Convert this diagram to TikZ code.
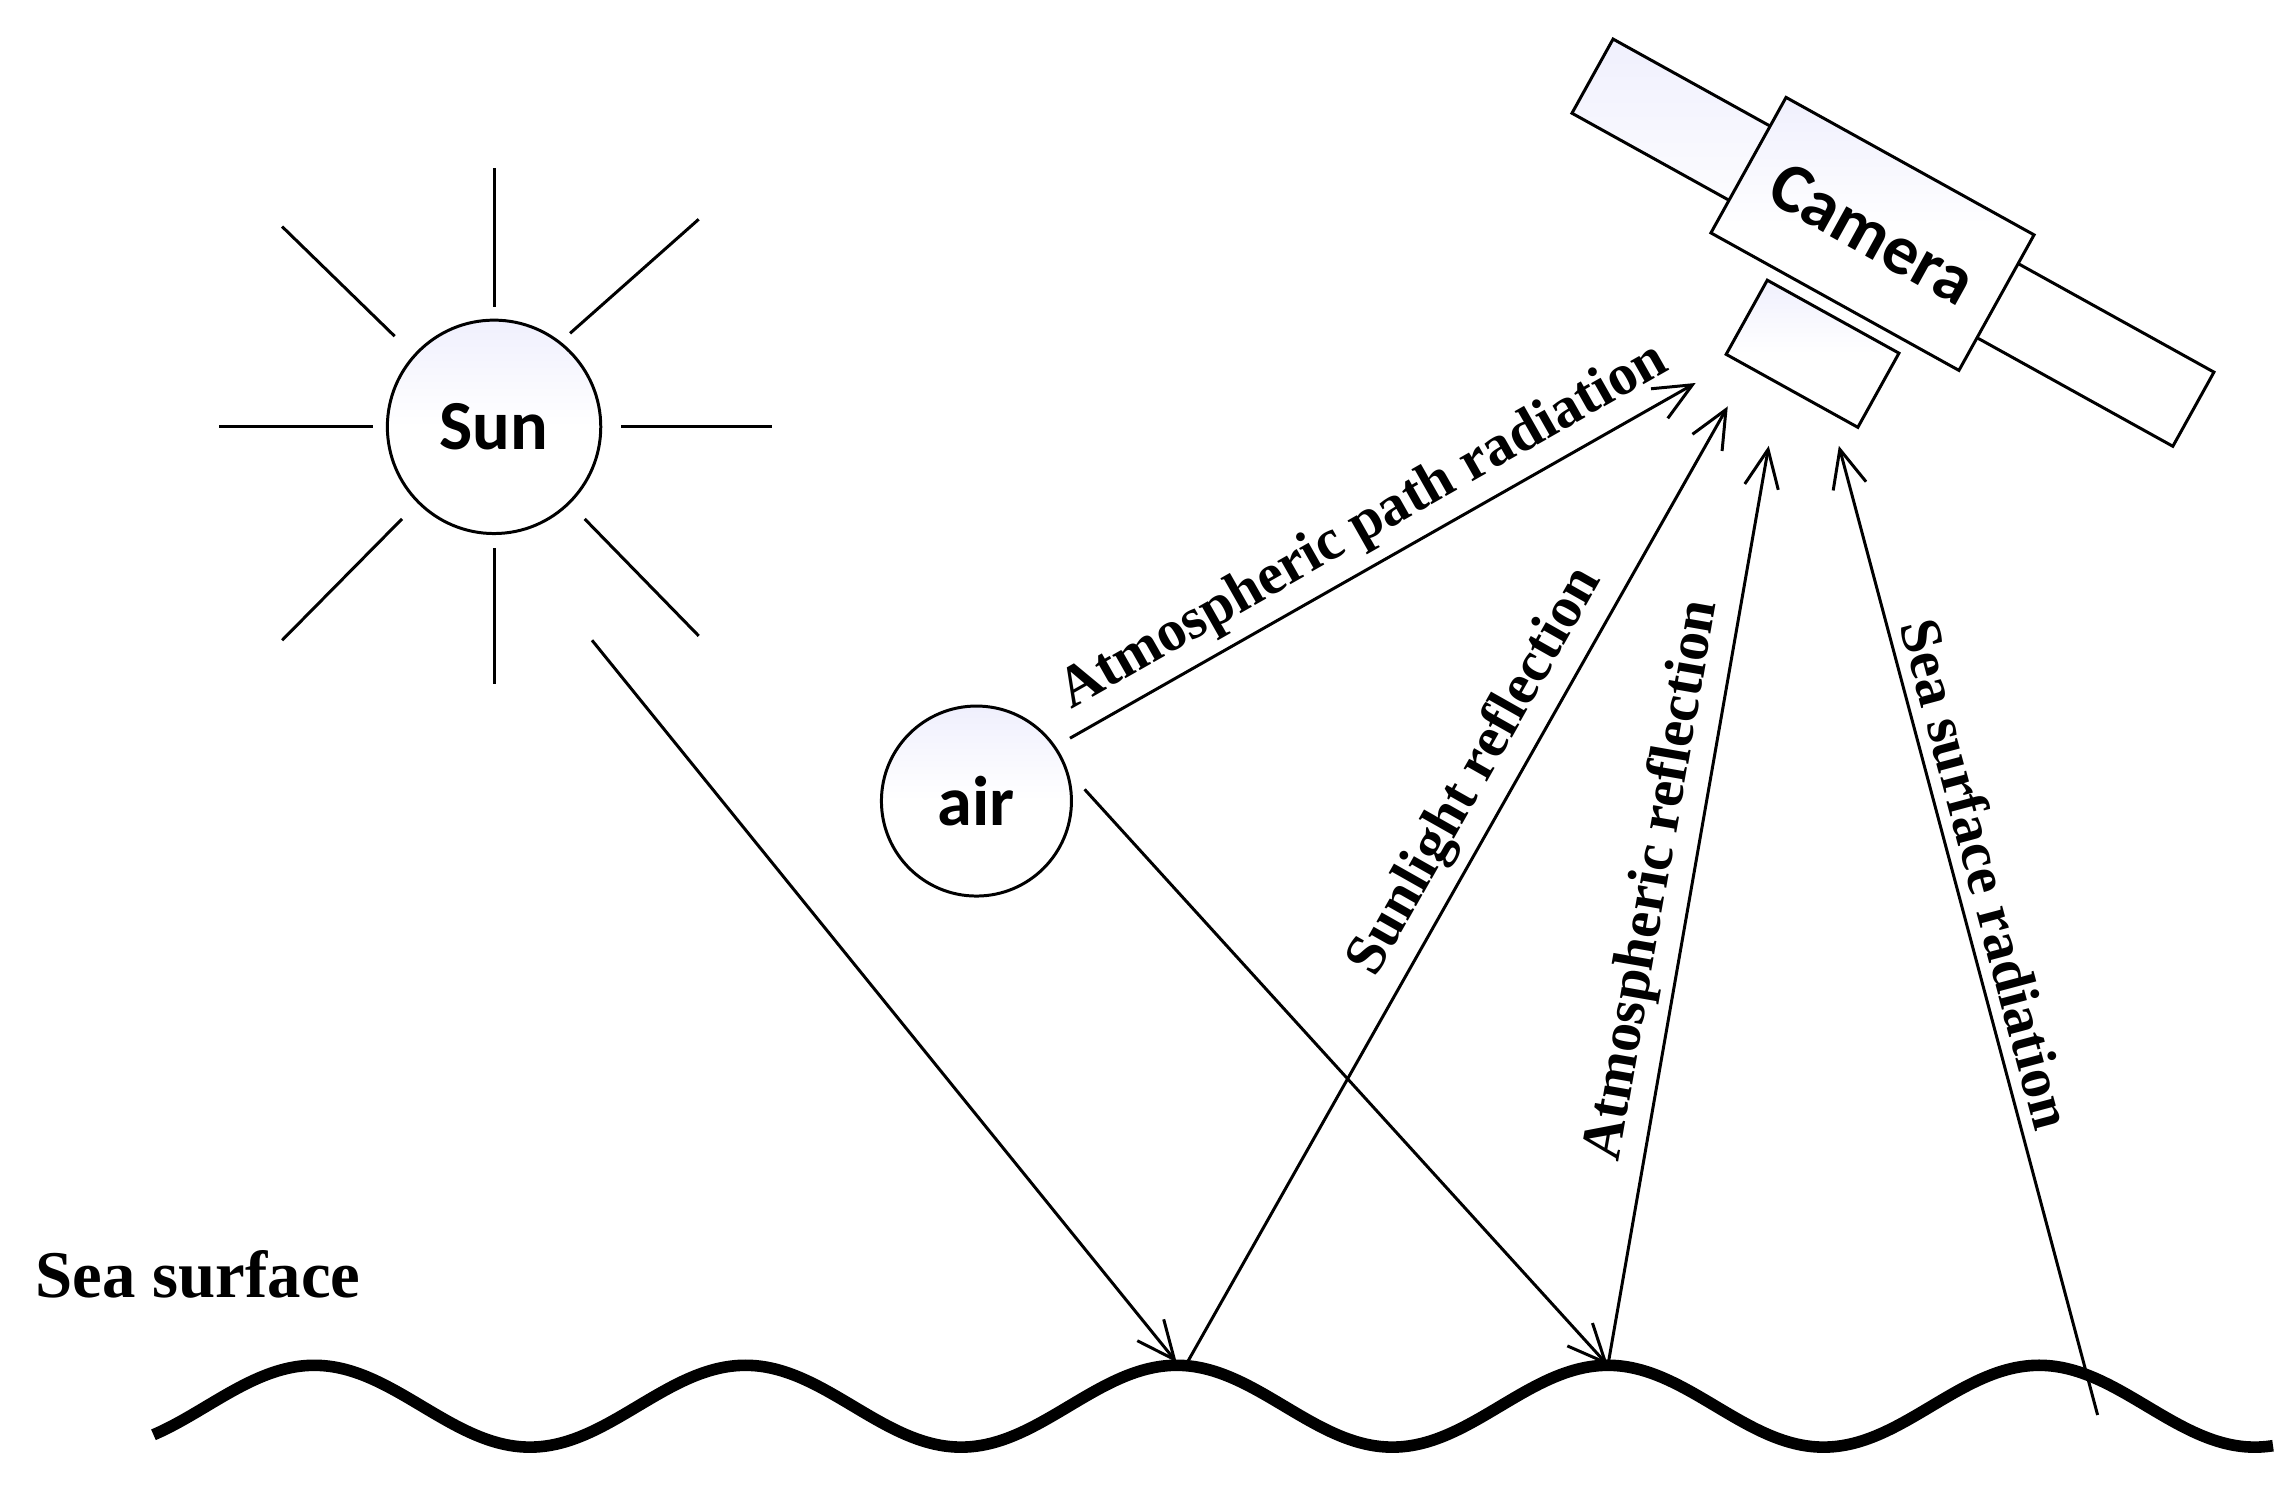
\documentclass[tikz,border=0pt]{standalone}
\usepackage{fontspec}
\setmainfont{Liberation Serif}
\newfontfamily\calib{Carlito}
\usetikzlibrary{arrows.meta}
\begin{document}
\def\pxu{0.014617cm}
\begin{tikzpicture}[x=0.014617cm,y=-0.014617cm,
  ray/.style={line width=0.85pt},
  body/.style={draw,line width=0.85pt,top color=black!12!blue!6,bottom color=white,middle color=white},
  ball/.style={body,circle,inner sep=0pt,font=\calib\fontsize{20}{24}\selectfont\bfseries},
  arr/.style={line width=0.85pt,-{Straight Barb[length=0.38cm,width=0.34cm,line width=0.85pt]}},
  lab/.style={font=\fontsize{16.5}{20}\selectfont\bfseries,sloped,above,inner sep=3pt}]
\useasboundingbox (0,0) rectangle (1568,1030);
% sun
\node[ball,minimum size=146*\pxu] (sun) at (338,292) {Sun};
\draw[ray] (338,115)--(338,210);
\draw[ray] (338,375)--(338,468);
\draw[ray] (150,292)--(255,292);
\draw[ray] (425,292)--(528,292);
\draw[ray] (193,155)--(270,230);
\draw[ray] (390,228)--(478,150);
\draw[ray] (193,438)--(275,355);
\draw[ray] (400,355)--(478,435);
% air
\node[ball,minimum size=130*\pxu] (air) at (668,548) {air};
% camera
\node[body,rectangle,rotate=-29,minimum width=470*\pxu,minimum height=58*\pxu] (panel) at (1295,166) {};
\node[body,rectangle,rotate=-29,minimum width=103*\pxu,minimum height=58*\pxu] (lens) at (1240,242) {};
\node[body,rectangle,rotate=-29,minimum width=194*\pxu,minimum height=106*\pxu,font=\calib\fontsize{20}{24}\selectfont\bfseries] (cam) at (1281,160) {Camera};
% sea
\draw[line width=3.3pt] plot[domain=105:1555,samples=300,smooth] (\x,{962-28*cos(1.220339*(\x-805))});
\node[font=\fontsize{19}{22}\selectfont\bfseries,anchor=west] (sea) at (16,872) {Sea surface};
% points
\coordinate (s1) at (405,438);
\coordinate (c1) at (805,932);
\coordinate (c1b) at (810,936);
\coordinate (a1) at (742,540);
\coordinate (c2) at (1100,934);
\coordinate (a2) at (732,505);
\coordinate (k1) at (1160,262);
\coordinate (k2) at (1182,278);
\coordinate (k3) at (1210,305);
\coordinate (k4) at (1258,305);
\coordinate (t3) at (1435,968);
\draw[arr] (s1)--(c1);
\draw[arr] (a1)--(c2);
\draw[arr] (a2)--node[lab,pos=0.5]{Atmospheric path radiation}(k1);
\draw[arr] (c1b)--node[lab,pos=0.6]{Sunlight reflection}(k2);
\draw[arr] (c2)--node[lab,pos=0.52]{Atmospheric reflection}(k3);
\draw[arr] (t3)--node[lab,pos=0.55]{Sea surface radiation}(k4);
\end{tikzpicture}
\end{document}
